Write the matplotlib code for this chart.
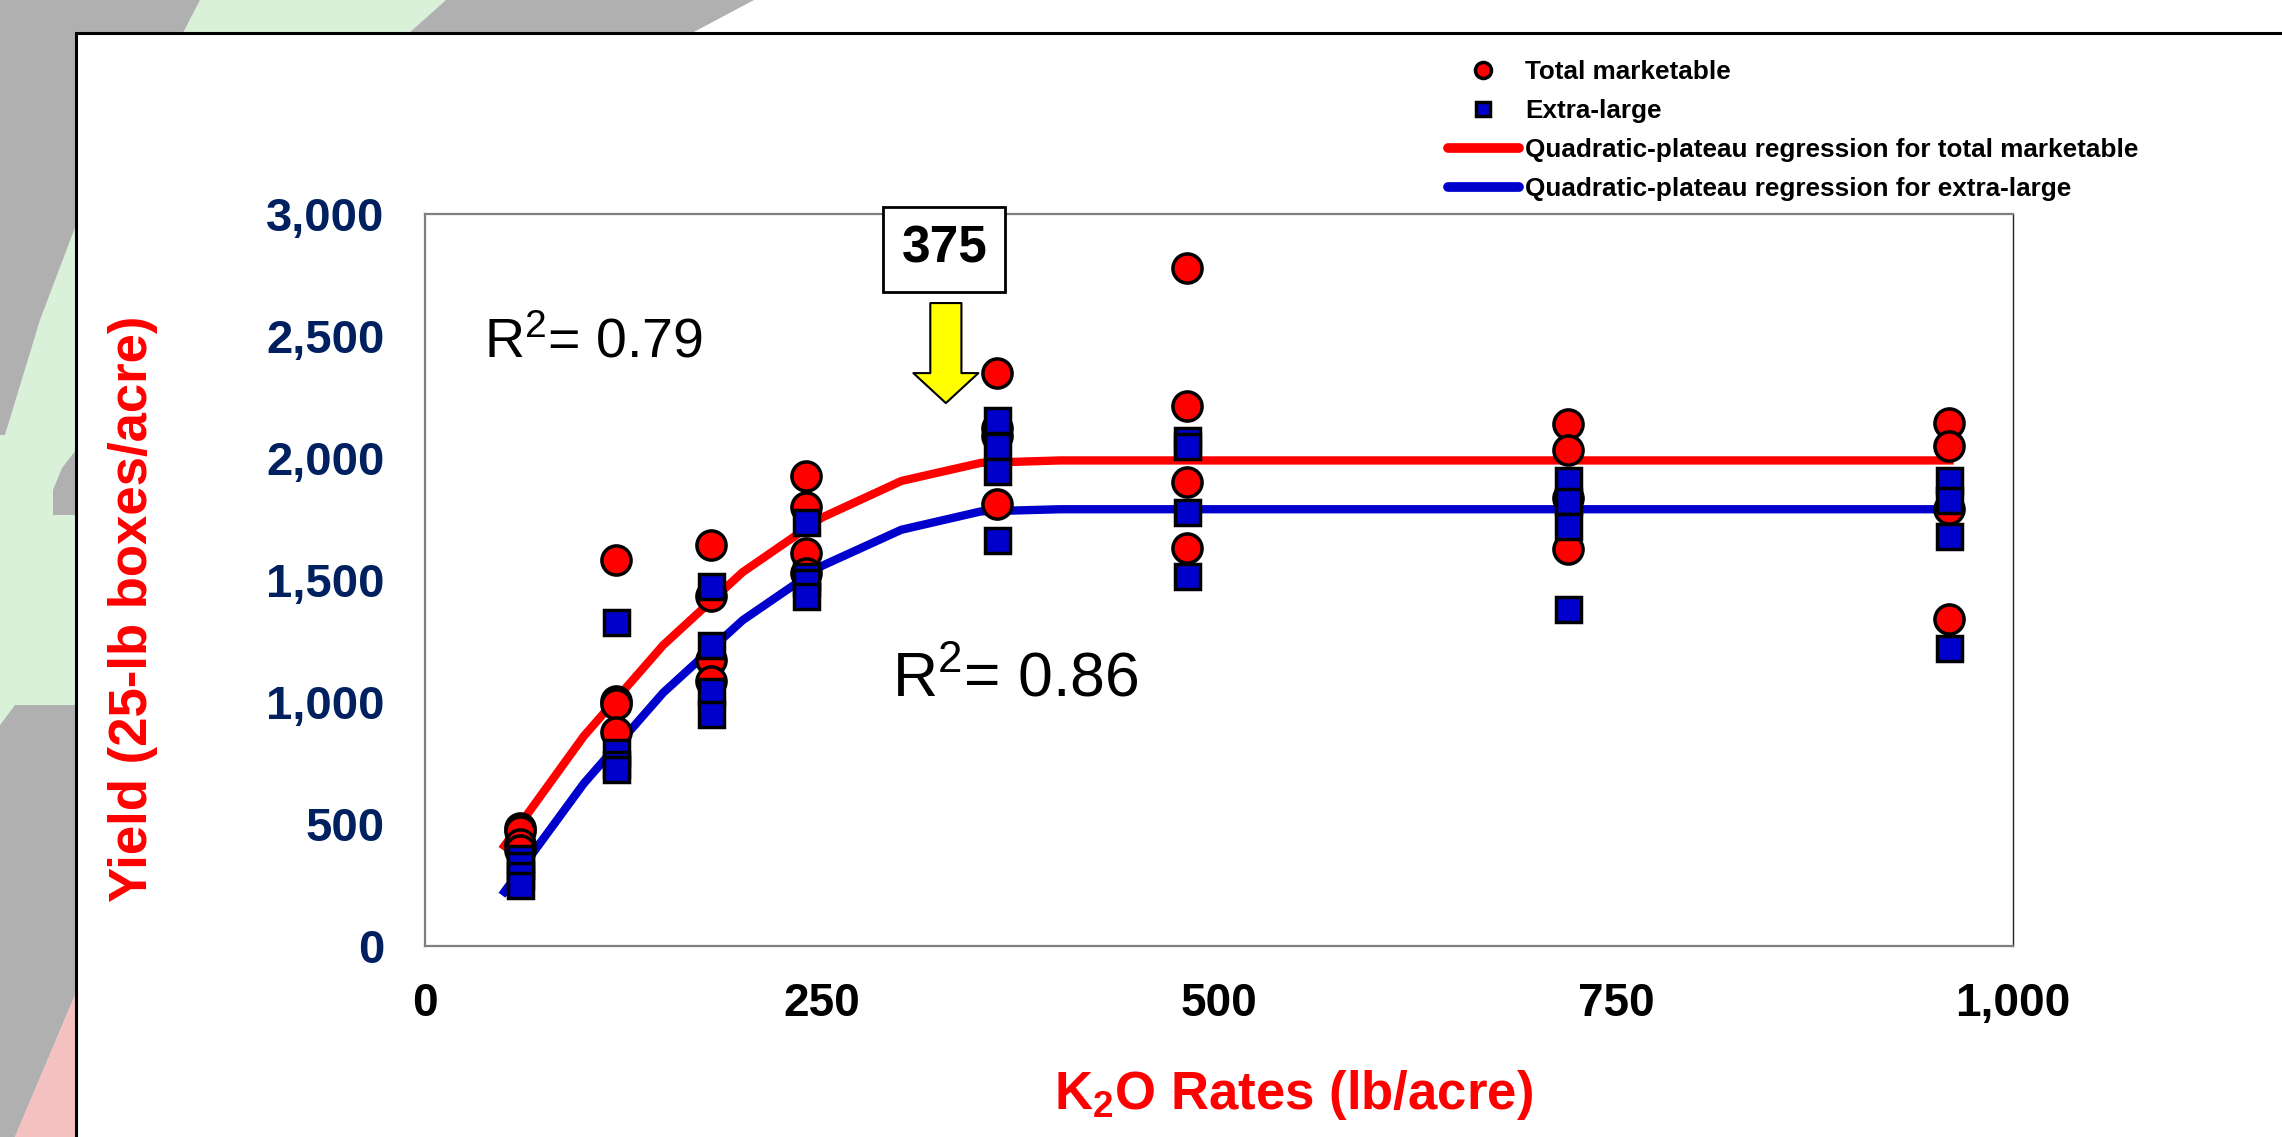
import matplotlib
matplotlib.use("Agg")
import matplotlib.pyplot as plt
from matplotlib.patches import Polygon, Rectangle
from matplotlib.ticker import StrMethodFormatter

plt.rcParams['font.family'] = ['Liberation Sans', 'DejaVu Sans']
plt.rcParams['mathtext.fontset'] = 'custom'
plt.rcParams['mathtext.rm'] = 'Liberation Sans'
plt.rcParams['mathtext.bf'] = 'Liberation Sans:bold'
plt.rcParams['mathtext.it'] = 'Liberation Sans:italic'

W, H = 2282, 1137

# K2O rates (lb/acre), four replicates per rate
rates = [60, 120, 180, 240, 360, 480, 720, 960]

total_marketable = [
    [485, 470, 418, 395],
    [1580, 1004, 990, 879],
    [1643, 1434, 1172, 1088],
    [1926, 1800, 1611, 1528],
    [2348, 2124, 2090, 1810],
    [2778, 2214, 1900, 1631],
    [2139, 2034, 1837, 1626],
    [2143, 2049, 1790, 1339],
]

extra_large = [
    [360, 334, 293, 250],
    [1329, 795, 745, 725],
    [1475, 1234, 1046, 952],
    [1737, 1518, 1490, 1434],
    [2156, 2050, 1946, 1663],
    [2073, 2050, 1778, 1516],
    [1909, 1822, 1720, 1382],
    [1909, 1829, 1680, 1222],
]

# quadratic-plateau fitted curves
fit_x = [50, 100, 150, 200, 250, 300, 350, 400, 960]
fit_total = [410, 860, 1233, 1532, 1756, 1906, 1980, 1990, 1990]
fit_xl = [222, 666, 1038, 1335, 1558, 1706, 1781, 1790, 1790]

xticks = [0, 250, 500, 750, 1000]
yticks = [0, 500, 1000, 1500, 2000, 2500, 3000]

GRAY = "#b0b0b0"
GREEN = "#d9f0d9"
PINK = "#f4c0c0"
RED = "#ff0000"
BLUE = "#0000cc"
NAVY = "#002060"


def px(x, y):
    """pixel position -> figure fraction"""
    return (x / W, 1 - y / H)


def draw_background(fig):
    """slide decoration round the white panel"""
    shapes = [
        (GREEN, [(200, 0), (446, 0), (409, 33), (183, 33)]),
        (GREEN, [(76, 225), (76, 705), (15, 705), (0, 725), (0, 435), (5, 435), (40, 320)]),
        (GRAY, [(0, 0), (200, 0), (183, 33), (76, 33), (76, 225), (40, 320), (5, 435), (0, 435)]),
        (GRAY, [(446, 0), (754, 0), (692, 33), (409, 33)]),
        (GRAY, [(76, 450), (62, 468), (53, 490), (53, 515), (76, 515)]),
        (GRAY, [(0, 725), (15, 705), (76, 705), (76, 993), (15, 1137), (0, 1137)]),
        (PINK, [(76, 993), (76, 1137), (15, 1137)]),
    ]
    for color, pts in shapes:
        fig.patches.append(Polygon([px(*p) for p in pts], closed=True, fc=color, ec="none",
                                   transform=fig.transFigure, zorder=0))
    panel = Rectangle(px(76, 1140), (W + 10 - 76) / W, (1140 - 33) / H, fc="white", ec="black",
                      lw=2.2, transform=fig.transFigure, zorder=1)
    fig.patches.append(panel)


fig = plt.figure(figsize=(W / 100, H / 100), dpi=100)
fig.patch.set_facecolor("white")
draw_background(fig)

ax = fig.add_axes([425 / W, 1 - 946 / H, 1588 / W, 732 / H])
ax.set_zorder(2)
ax.set_facecolor("white")

line_total, = ax.plot(fit_x, fit_total, color=RED, lw=6, zorder=2,
                      label="Quadratic-plateau regression for total marketable")
line_xl, = ax.plot(fit_x, fit_xl, color=BLUE, lw=6, zorder=2,
                   label="Quadratic-plateau regression for extra-large")

tm_x = [r for r, reps in zip(rates, total_marketable) for _ in reps]
tm_y = [v for reps in total_marketable for v in reps]
xl_x = [r for r, reps in zip(rates, extra_large) for _ in reps]
xl_y = [v for reps in extra_large for v in reps]

pts_total, = ax.plot(tm_x, tm_y, ls="none", marker="o", ms=21, mfc=RED, mec="black", mew=2.5,
                     zorder=3, label="Total marketable")
pts_xl, = ax.plot(xl_x, xl_y, ls="none", marker="s", ms=18, mfc=BLUE, mec="black", mew=2.5,
                  zorder=4, label="Extra-large")

ax.set_xlim(0, 1000)
ax.set_ylim(0, 3000)
ax.set_xticks(xticks)
ax.set_yticks(yticks)
ax.xaxis.set_major_formatter(StrMethodFormatter("{x:,.0f}"))
ax.yaxis.set_major_formatter(StrMethodFormatter("{x:,.0f}"))
ax.tick_params(axis="y", length=0, pad=29, labelsize=34, labelcolor=NAVY)
ax.tick_params(axis="x", length=0, pad=26, labelsize=33, labelcolor="black")
for lab in ax.get_xticklabels() + ax.get_yticklabels():
    lab.set_fontweight("bold")

for side in ["left", "top", "bottom"]:
    ax.spines[side].set_color("#7f7f7f")
    ax.spines[side].set_linewidth(1.6)
ax.spines["right"].set_color("#222222")
ax.spines["right"].set_linewidth(1.0)

# axis titles
fig.text(*px(133, 609), "Yield (25-lb boxes/acre)", rotation=90, ha="center", va="center",
         fontsize=38, fontweight="bold", color=RED)
fig.text(*px(1294, 1095), r"K$_\mathbf{2}$O Rates (lb/acre)", ha="center", va="center",
         fontsize=38, fontweight="bold", color=RED)

# R squared notes
ax.text(37, 2413, r"R$^\mathrm{2}$= 0.79", fontsize=40, va="baseline", ha="left")
ax.text(294, 1025, r"R$^\mathrm{2}$= 0.86", fontsize=45, va="baseline", ha="left")

# plateau marker
ax.text(327, 2856, "375", ha="center", va="center", fontsize=37, fontweight="bold", zorder=6,
        clip_on=False,
        bbox=dict(boxstyle="square,pad=0.35", fc="white", ec="black", lw=2))
ax.annotate("", xy=(328, 2225), xytext=(328, 2635), zorder=5,
            arrowprops=dict(arrowstyle="simple,head_length=1.08,head_width=2.34,tail_width=1.12",
                            mutation_scale=20, fc="#ffff00", ec="black", lw=1.5,
                            shrinkA=0, shrinkB=0))

leg = fig.legend(handles=[pts_total, pts_xl, line_total, line_xl], loc="upper left",
                 bbox_to_anchor=px(1448, 60), frameon=False,
                 prop={"weight": "bold", "size": 18.8}, markerscale=0.55,
                 handlelength=2.7, handletextpad=0.25, labelspacing=0.58,
                 borderpad=0, borderaxespad=0)
for h in leg.legend_handles:
    if h.get_linestyle() == "-":
        h.set_linewidth(7)
        h.set_solid_capstyle("round")

fig.savefig("out.png", dpi=100)
